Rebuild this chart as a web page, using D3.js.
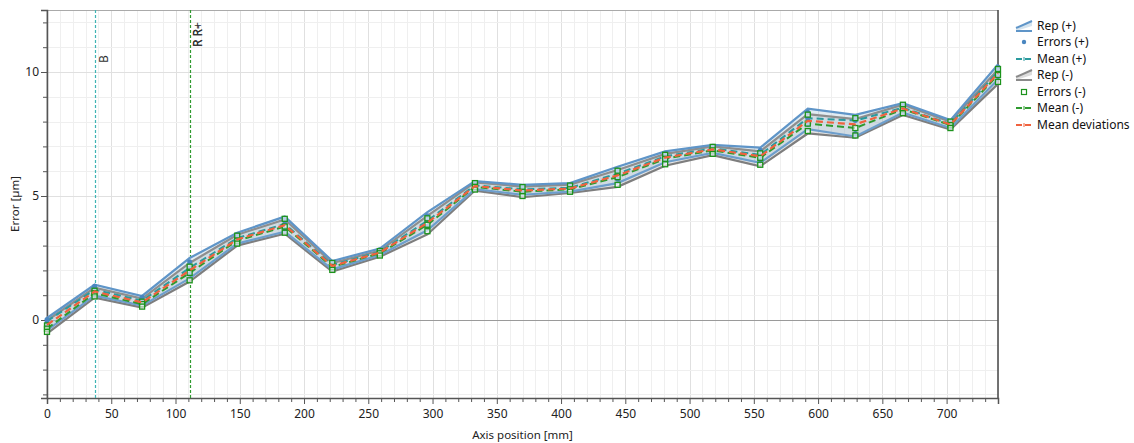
<!DOCTYPE html>
<html><head><meta charset="utf-8">
<script src="https://cdn.jsdelivr.net/npm/d3@7"></script>
<style>body{margin:0;background:#fff}svg{display:block}text{font-family:"Noto Sans","Open Sans",sans-serif}</style>
</head><body><svg id="c" width="1134" height="443"></svg>
<script>
const positions = [0,37,74,111,148,185,222,259,296,333,370,407,444,481,518,555,592,629,666,703,740];
const meanPlus  = [-0.05,1.22,0.78,2.10,3.30,3.87,2.22,2.75,4.00,5.43,5.27,5.33,5.90,6.60,6.92,6.66,8.14,8.04,8.56,7.90,10.02];
const meanMinus = [-0.35,1.08,0.64,1.90,3.20,3.77,2.14,2.69,3.84,5.37,5.17,5.27,5.76,6.50,6.84,6.54,7.92,7.74,8.50,7.86,9.88];
const meanDev   = [-0.20,1.15,0.71,2.00,3.25,3.82,2.18,2.72,3.92,5.40,5.22,5.30,5.83,6.55,6.88,6.60,8.03,7.89,8.53,7.88,9.95];
const repPlusHi  = [0.08,1.42,0.97,2.50,3.52,4.17,2.38,2.88,4.35,5.60,5.45,5.52,6.18,6.80,7.06,6.95,8.52,8.27,8.74,8.06,10.30];
const repPlusLo  = [-0.42,0.98,0.58,1.68,3.08,3.56,2.04,2.62,3.62,5.28,5.05,5.18,5.52,6.36,6.74,6.34,7.70,7.40,8.36,7.74,9.70];
const repMinusHi = [-0.02,1.30,0.86,2.30,3.44,4.05,2.30,2.80,4.20,5.55,5.38,5.46,6.05,6.70,7.00,6.80,8.30,8.10,8.68,8.00,10.10];
const repMinusLo = [-0.55,0.90,0.50,1.55,3.00,3.48,1.95,2.55,3.45,5.22,4.95,5.12,5.37,6.22,6.65,6.20,7.52,7.35,8.27,7.68,9.52];
const errPlusRun1 = [0.02,1.36,0.92,2.35,3.45,4.08,2.33,2.83,4.20,5.54,5.38,5.45,6.05,6.72,7.00,6.84,8.38,8.18,8.68,8.00,10.20];
const errPlusRun2 = [-0.08,1.22,0.78,2.10,3.30,3.88,2.22,2.75,4.00,5.43,5.27,5.33,5.90,6.60,6.92,6.66,8.14,8.04,8.56,7.90,10.02];
const errPlusRun3 = [-0.22,1.05,0.64,1.85,3.15,3.66,2.10,2.67,3.78,5.33,5.14,5.24,5.68,6.45,6.82,6.46,7.88,7.52,8.44,7.80,9.82];
const errMinusRun1 = [-0.22,1.18,0.74,2.15,3.40,4.08,2.30,2.78,4.10,5.52,5.36,5.42,6.02,6.66,6.98,6.72,8.28,8.14,8.68,8.00,10.12];
const errMinusRun2 = [-0.35,1.08,0.64,1.90,3.20,3.77,2.14,2.69,3.84,5.37,5.17,5.27,5.76,6.50,6.84,6.54,7.92,7.74,8.50,7.86,9.88];
const errMinusRun3 = [-0.48,0.95,0.54,1.60,3.08,3.52,2.02,2.60,3.58,5.26,5.00,5.17,5.45,6.28,6.70,6.26,7.62,7.44,8.34,7.74,9.60];
const xTicks = [0,50,100,150,200,250,300,350,400,450,500,550,600,650,700];
const yTicks = [0,5,10];
const markers = [{pos:37,color:"#3fb4b4"},{pos:111,color:"#2f9a2f"}];
const legendItems = ["Rep (+)","Errors (+)","Mean (+)","Rep (-)","Errors (-)","Mean (-)","Mean deviations"];

const svg = d3.select("#c");
const L=47,R=998,T=10,B=398;
const x = d3.scaleLinear().domain([0,740]).range([L,R]);
const y = d3.scaleLinear().domain([-3.145,12.5]).range([B,T]);
const px = v=>Math.round(v)+0.5;

const g = svg.append("g");
g.selectAll(".vg").data(d3.range(0,741,10)).join("line")
  .attr("x1",d=>px(x(d))).attr("x2",d=>px(x(d))).attr("y1",T).attr("y2",B)
  .attr("stroke",d=>d%50===0?"#e0e0e0":"#efefef").attr("stroke-width",1);
g.selectAll(".hg").data(d3.range(-3,13,1)).join("line")
  .attr("x1",L).attr("x2",R).attr("y1",d=>px(y(d))).attr("y2",d=>px(y(d)))
  .attr("stroke",d=>d%5===0?"#e0e0e0":"#efefef").attr("stroke-width",1);
g.append("line").attr("x1",L).attr("x2",R).attr("y1",px(y(0))).attr("y2",px(y(0))).attr("stroke","#9a9a9a").attr("stroke-width",1);

svg.append("rect").attr("x",L).attr("y",T+0.5).attr("width",R-L).attr("height",B-T).attr("fill","none").attr("stroke","#aaaaaa");
svg.append("line").attr("x1",R).attr("x2",R).attr("y1",T).attr("y2",B).attr("stroke","#333").attr("stroke-width",1.2);

const xa = svg.append("g").attr("transform",`translate(0,${B})`).call(d3.axisBottom(x).tickValues(xTicks).tickSize(6).tickFormat(d3.format("d")));
xa.select(".domain").attr("stroke","#555").attr("stroke-width",1.5);
xa.selectAll(".tick line").attr("stroke","#555");
xa.selectAll("text").attr("font-size",12).attr("fill","#222").attr("dy","0.95em");
const xMinor = svg.append("g").attr("transform",`translate(0,${B})`).call(d3.axisBottom(x).tickValues(d3.range(0,741,10).filter(d=>d%50!==0)).tickSize(4).tickFormat(""));
xMinor.select(".domain").remove();
xMinor.selectAll(".tick line").attr("stroke","#555");

const ya = svg.append("g").attr("transform",`translate(${L},0)`).call(d3.axisLeft(y).tickValues(yTicks).tickSize(6).tickFormat(d3.format("d")));
ya.select(".domain").attr("stroke","#555").attr("stroke-width",1.5);
ya.selectAll(".tick line").attr("stroke","#555");
ya.selectAll("text").attr("font-size",12).attr("fill","#222").attr("x",-8);
const yMinor = svg.append("g").attr("transform",`translate(${L},0)`).call(d3.axisLeft(y).tickValues(d3.range(-3,13,1).filter(d=>d%5!==0)).tickSize(4).tickFormat(""));
yMinor.select(".domain").remove();
yMinor.selectAll(".tick line").attr("stroke","#555");

svg.append("text").attr("x",(L+R)/2).attr("y",439).attr("text-anchor","middle").attr("font-size",11.5).attr("fill","#222").text("Axis position [mm]");
svg.append("text").attr("transform",`translate(19,${(T+B)/2}) rotate(-90)`).attr("text-anchor","middle").attr("font-size",11.5).attr("fill","#222").text("Error [µm]");

markers.forEach(m=>{
  svg.append("line").attr("x1",px(x(m.pos))).attr("x2",px(x(m.pos))).attr("y1",T).attr("y2",B)
    .attr("stroke",m.color).attr("stroke-width",1.2).attr("stroke-dasharray","3,2");
});
svg.append("text").attr("transform",`translate(${x(37)+13},63) rotate(-90)`).attr("font-size",12).attr("fill","#333").text("B");
svg.append("text").attr("transform",`translate(${x(111)+12},47) rotate(-90)`).attr("font-size",12).attr("fill","#333").text("R R+");
svg.append("text").attr("transform",`translate(${x(111)+12},47) rotate(-90)`).attr("font-size",12).attr("fill","#333").text("R R-");

const idx = d3.range(positions.length);
const area = (lo,hi)=>d3.area().x(i=>x(positions[i])).y0(i=>y(lo[i])).y1(i=>y(hi[i]));
const line = (arr)=>d3.line().x(i=>x(positions[i])).y(i=>y(arr[i]));

const plot = svg.append("g");
plot.append("path").datum(idx).attr("d",area(repMinusLo,repMinusHi)).attr("fill","rgba(160,160,160,0.28)");
plot.append("path").datum(idx).attr("d",area(repPlusLo,repPlusHi)).attr("fill","rgba(170,200,222,0.35)");
[[repMinusLo,"#7e7e7e"],[repMinusHi,"#8e8e8e"]].forEach(([a,c])=>plot.append("path").datum(idx).attr("d",line(a)).attr("fill","none").attr("stroke",c).attr("stroke-width",2.2));
[[repPlusHi,"#5f95c8"],[repPlusLo,"#6d9ecc"]].forEach(([a,c])=>plot.append("path").datum(idx).attr("d",line(a)).attr("fill","none").attr("stroke",c).attr("stroke-width",2.2));

plot.append("path").datum(idx).attr("d",line(meanPlus)).attr("fill","none").attr("stroke","#2a9a9e").attr("stroke-width",2).attr("stroke-dasharray","7,4");
plot.append("path").datum(idx).attr("d",line(meanMinus)).attr("fill","none").attr("stroke","#2e9a2e").attr("stroke-width",2).attr("stroke-dasharray","7,4");

[errPlusRun1,errPlusRun2,errPlusRun3].forEach(run=>{
  plot.append("g").selectAll("circle").data(idx).join("circle")
    .attr("cx",i=>x(positions[i])).attr("cy",i=>y(run[i])).attr("r",2.5).attr("fill","#4a86c0");
});
[errMinusRun1,errMinusRun2,errMinusRun3].forEach(run=>{
  plot.append("g").selectAll("rect").data(idx).join("rect")
    .attr("x",i=>x(positions[i])-2.5).attr("y",i=>y(run[i])-2.5).attr("width",5).attr("height",5)
    .attr("fill","#fff").attr("fill-opacity",0.6).attr("stroke","#1c931c").attr("stroke-width",1.3);
});

plot.append("path").datum(idx).attr("d",line(meanDev)).attr("fill","none").attr("stroke","#f0623e").attr("stroke-width",2.2).attr("stroke-dasharray","7,4");

const lg = svg.append("g").attr("transform","translate(1015,0)");
const ly = [25,41,58,74,91,107,124];
legendItems.forEach((t,i)=>{
  const yy = ly[i];
  const it = lg.append("g");
  if(i===0||i===3){
    const c = i===0?"#5f95c8":"#8a8a8a";
    const f = i===0?"rgba(170,200,222,0.5)":"rgba(170,170,170,0.4)";
    it.append("path").attr("d",`M1,${yy+4} L17,${yy-4} L17,${yy+1} L1,${yy+6}Z`).attr("fill",f);
    it.append("line").attr("x1",1).attr("y1",yy+3).attr("x2",17).attr("y2",yy-4).attr("stroke",c).attr("stroke-width",2);
    it.append("line").attr("x1",1).attr("y1",yy+6).attr("x2",17).attr("y2",yy+6).attr("stroke",c).attr("stroke-width",2);
  } else if(i===1){
    it.append("circle").attr("cx",9).attr("cy",yy+1).attr("r",2.2).attr("fill","#4a86c0");
  } else if(i===4){
    it.append("rect").attr("x",6.5).attr("y",yy-1.5).attr("width",5).attr("height",5).attr("fill","#fff").attr("stroke","#1c931c").attr("stroke-width",1.2);
  } else {
    const c = i===2?"#2a9a9e":(i===5?"#2e9a2e":"#f0623e");
    it.append("line").attr("x1",1).attr("x2",17).attr("y1",yy+1).attr("y2",yy+1).attr("stroke",c).attr("stroke-width",2).attr("stroke-dasharray","6,3");
    it.append("line").attr("x1",9).attr("x2",9).attr("y1",yy-1).attr("y2",yy+3).attr("stroke",c).attr("stroke-width",1);
  }
  it.append("text").attr("x",22).attr("y",yy+5).attr("font-size",12).attr("fill","#111").text(t);
});
</script></body></html>
